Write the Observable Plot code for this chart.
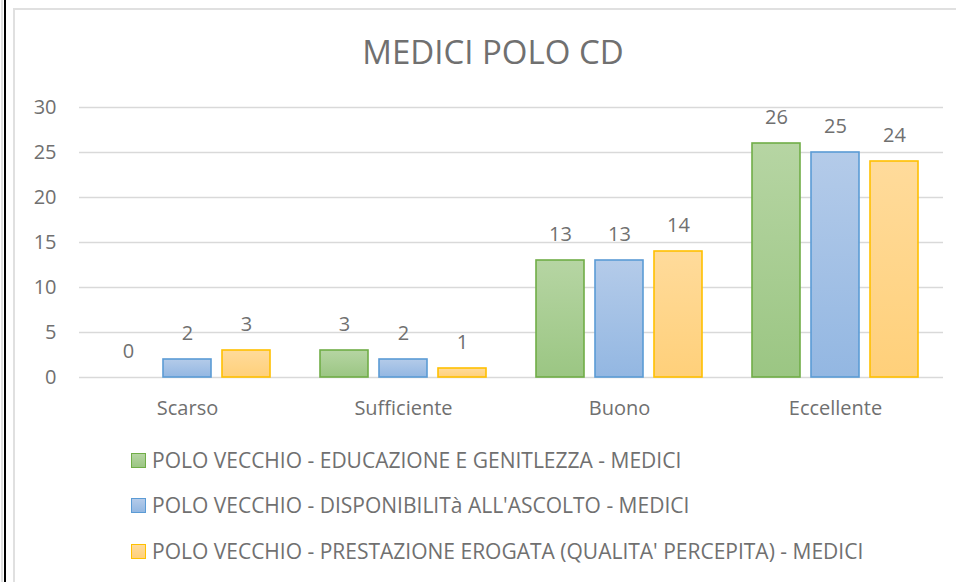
<!DOCTYPE html>
<html>
<head>
<meta charset="utf-8">
<script src="https://cdn.jsdelivr.net/npm/d3@7"></script>
<script src="https://cdn.jsdelivr.net/npm/@observablehq/plot@0.6"></script>
<style>
  html, body { margin: 0; padding: 0; background: #fff; overflow: hidden; }
  #page { position: relative; width: 956px; height: 582px; overflow: hidden; font-family: "Open Sans", sans-serif; color: #707070; }
  #lineGray { position: absolute; left: 1px; top: 0; width: 2px; height: 582px; background: #e0e0e0; }
  #lineBlack { position: absolute; left: 4px; top: 0; width: 2px; height: 582px; background: #000; }
  #frame { position: absolute; left: 13px; top: 8px; width: 943px; height: 574px; border-left: 2px solid #e0e0e0; border-top: 2px solid #e0e0e0; border-right: none; border-bottom: none; box-sizing: border-box; }
  #title { position: absolute; left: 14px; width: 958px; top: 35px; text-align: center; font-size: 33px; line-height: 33px; white-space: nowrap; }
  #chart { position: absolute; left: 0; top: 0; }
  .leg { position: absolute; left: 131px; height: 20px; display: flex; align-items: center; font-size: 21px; line-height: 20px; white-space: nowrap; }
  .sw { width: 13px; height: 13px; border: 1px solid; margin-right: 6px; flex: none; }
</style>
</head>
<body>
<div id="page">
  <div id="lineGray"></div>
  <div id="lineBlack"></div>
  <div id="frame"></div>
  <div id="title">MEDICI POLO CD</div>
  <div id="chart"></div>
  <div id="legend"></div>
</div>
<script>
// ---- data ----
const categories = ["Scarso", "Sufficiente", "Buono", "Eccellente"];
const seriesNames = [
  "POLO VECCHIO - EDUCAZIONE E GENITLEZZA - MEDICI",
  "POLO VECCHIO - DISPONIBILITà ALL'ASCOLTO - MEDICI",
  "POLO VECCHIO - PRESTAZIONE EROGATA (QUALITA' PERCEPITA) - MEDICI"
];
const educazione = [0, 3, 13, 26];
const disponibilita = [2, 2, 13, 25];
const prestazione = [3, 1, 14, 24];
const yTicks = [0, 5, 10, 15, 20, 25, 30];

// ---- styles ----
const strokeColors = ["#70ad47", "#5b9bd5", "#ffc000"];
const gradTop = ["#b6d5a3", "#b4cbe9", "#ffdb9b"];
const gradBottom = ["#9bc683", "#93b7e2", "#ffd07a"];
const gradIds = ["gradG", "gradB", "gradO"];

const seriesValues = [educazione, disponibilita, prestazione];
const rows = [];
categories.forEach((c, ci) => {
  seriesNames.forEach((s, si) => {
    rows.push({category: c, series: s, si, value: seriesValues[si][ci]});
  });
});

const svg = Plot.plot({
  width: 956,
  height: 440,
  marginLeft: 78,
  marginRight: 13,
  marginTop: 107,
  marginBottom: 63,
  style: {fontFamily: "Open Sans", fontSize: "20px", color: "#707070", background: "transparent", overflow: "visible"},
  fx: {domain: categories, padding: 0, axis: "bottom", tickSize: 0, tickPadding: 23, label: null},
  x: {domain: seriesNames, paddingInner: 0.183, paddingOuter: 0.393, axis: null},
  y: {domain: [0, 30], ticks: yTicks, tickSize: 0, tickPadding: 23, label: null, grid: false},
  color: {type: "identity"},
  marks: [
    Plot.ruleY(yTicks, {stroke: "#d9d9d9", strokeWidth: 1.3}),
    Plot.barY(rows.filter(d => d.value > 0), {
      fx: "category", x: "series", y: "value",
      fill: d => `url(#${gradIds[d.si]})`,
      stroke: d => strokeColors[d.si],
      strokeWidth: 1.6
    }),
    Plot.text(rows, {
      fx: "category", x: "series", y: "value",
      text: d => String(d.value),
      dy: -26, fill: "#707070", fontSize: 20
    })
  ]
});

const defs = d3.select(svg).insert("defs", ":first-child");
gradIds.forEach((id, i) => {
  const g = defs.append("linearGradient").attr("id", id).attr("x1", 0).attr("y1", 0).attr("x2", 0).attr("y2", 1);
  g.append("stop").attr("offset", "0%").attr("stop-color", gradTop[i]);
  g.append("stop").attr("offset", "100%").attr("stop-color", gradBottom[i]);
});

document.getElementById("chart").appendChild(svg);

const legendTops = [450, 495, 541];
const legend = document.getElementById("legend");
seriesNames.forEach((s, i) => {
  const row = document.createElement("div");
  row.className = "leg";
  row.style.top = legendTops[i] + "px";
  const sw = document.createElement("span");
  sw.className = "sw";
  sw.style.borderColor = strokeColors[i];
  sw.style.background = `linear-gradient(${gradTop[i]}, ${gradBottom[i]})`;
  row.appendChild(sw);
  row.appendChild(document.createTextNode(s));
  legend.appendChild(row);
});
</script>
</body>
</html>
